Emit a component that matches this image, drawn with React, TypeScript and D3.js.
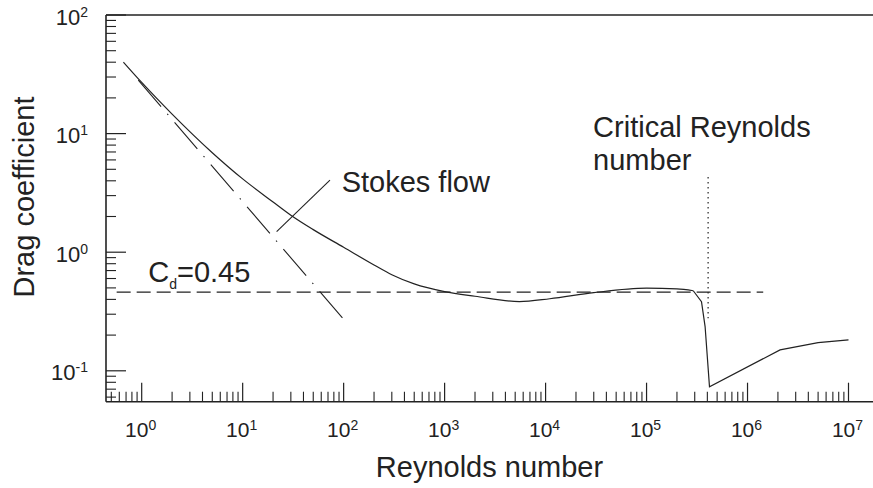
import React from "react";
import * as d3 from "d3";

// ---- data ----
const reynolds = [0.66, 1, 2, 5, 10, 20, 30, 50, 100, 200, 300, 500, 1000, 2000, 5500, 11000, 30000, 100000, 200000, 290000, 350000, 380000, 420000, 2100000, 5000000, 10000000];
const dragCoef = [40, 27, 14.6, 6.9, 4.15, 2.65, 2.05, 1.55, 1.1, 0.78, 0.645, 0.54, 0.465, 0.425, 0.383, 0.405, 0.456, 0.497, 0.49, 0.473, 0.383, 0.236, 0.0734, 0.15, 0.173, 0.182];
const SMOOTH_MAX_RE = 290000;

const stokesRe = [0.925, 98];
const stokesCd = [28.3, 0.277];

const CD_REF = 0.46;
const cdRefRe = [0.565, 1430000];

const CRIT_RE = 407000;
const critCd = [4.3, 0.277];

const xMajorTicks = [1, 10, 100, 1000, 10000, 100000, 1000000, 10000000];
const xTickExps = ["0", "1", "2", "3", "4", "5", "6", "7"];
const yMajorTicks = [100, 10, 1, 0.1];
const yTickExps = ["2", "1", "0", "-1"];

const stokesLeaderRe = [73.2, 21.7];
const stokesLeaderCd = [4.06, 1.49];

const X_TITLE = "Reynolds number";
const Y_TITLE = "Drag coefficient";
const STOKES_LABEL = "Stokes flow";
const CRIT_LABEL = ["Critical Reynolds", "number"];

// ---- layout ----
const W = 873;
const H = 488;
const LEFT = 106;
const TOP = 15;
const BOTTOM = 401.7;
const RIGHT = 873;

const FONT = "'Liberation Sans', Arial, Helvetica, sans-serif";
const INK = "#222";

export default function App() {
  const x = d3.scaleLog().domain([1, 1e7]).range([141.7, 848.5]);
  const y = d3.scaleLog().domain([100, 0.1]).range([TOP, 370.8]);

  const pts = reynolds.map((r, i) => [r, dragCoef[i]] as [number, number]);
  const smooth = pts.filter((p) => p[0] <= SMOOTH_MAX_RE);
  const sharp = pts.filter((p) => p[0] >= SMOOTH_MAX_RE);

  const lineSmooth = d3
    .line<[number, number]>()
    .x((d) => x(d[0]))
    .y((d) => y(d[1]))
    .curve(d3.curveMonotoneX);
  const lineSharp = d3
    .line<[number, number]>()
    .x((d) => x(d[0]))
    .y((d) => y(d[1]));

  const xMin = x.invert(LEFT);
  const xMinor: number[] = [];
  for (let e = -1; e <= 6; e++) {
    for (let k = 2; k <= 9; k++) {
      const v = k * Math.pow(10, e);
      if (v >= xMin && v < 1e7) xMinor.push(v);
    }
  }
  const yMin = y.invert(BOTTOM);
  const yMinor: number[] = [];
  for (let e = -2; e <= 1; e++) {
    for (let k = 2; k <= 9; k++) {
      const v = k * Math.pow(10, e);
      if (v >= yMin && v < 100) yMinor.push(v);
    }
  }

  const stokesPts = stokesRe.map((r, i) => [r, stokesCd[i]] as [number, number]);

  const sx0 = x(stokesLeaderRe[0]);
  const sy0 = y(stokesLeaderCd[0]);

  return (
    <svg
      width={W}
      height={H}
      style={{ position: "absolute", left: 0, top: 0, display: "block", background: "#fff" }}
      fontFamily={FONT}
    >
      {/* frame */}
      <line x1={LEFT} x2={RIGHT} y1={TOP} y2={TOP} stroke={INK} strokeWidth={1.6} />
      <line x1={LEFT} x2={LEFT} y1={TOP} y2={BOTTOM} stroke={INK} strokeWidth={1.6} />
      <line x1={LEFT} x2={RIGHT} y1={BOTTOM} y2={BOTTOM} stroke={INK} strokeWidth={1.6} />

      {/* x ticks */}
      {xMajorTicks.map((t) => (
        <line key={"xM" + t} x1={x(t)} x2={x(t)} y1={BOTTOM} y2={BOTTOM - 19} stroke={INK} strokeWidth={1.2} />
      ))}
      {xMinor.map((t) => (
        <line key={"xm" + t} x1={x(t)} x2={x(t)} y1={BOTTOM} y2={BOTTOM - 10} stroke={INK} strokeWidth={1.1} />
      ))}
      {xMajorTicks.map((t, i) => (
        <text key={"xl" + t} x={x(t) - 1} y={BOTTOM + 35} textAnchor="middle" fontSize={21} fill={INK}>
          10
          <tspan fontSize={14} dy={-7}>
            {xTickExps[i]}
          </tspan>
        </text>
      ))}

      {/* y ticks */}
      {yMajorTicks.map((t) => (
        <line key={"yM" + t} x1={LEFT} x2={LEFT + 20} y1={y(t)} y2={y(t)} stroke={INK} strokeWidth={1.2} />
      ))}
      {yMinor.map((t) => (
        <line key={"ym" + t} x1={LEFT} x2={LEFT + 10} y1={y(t)} y2={y(t)} stroke={INK} strokeWidth={1.1} />
      ))}
      {yMajorTicks.map((t, i) => (
        <text key={"yl" + t} x={88} y={y(t) + 9.5} textAnchor="end" fontSize={22} fill={INK}>
          10
          <tspan fontSize={14} dy={-8}>
            {yTickExps[i]}
          </tspan>
        </text>
      ))}

      {/* axis titles */}
      <text x={(LEFT + RIGHT) / 2} y={477} textAnchor="middle" fontSize={29} fill={INK}>
        {X_TITLE}
      </text>
      <text
        transform={`translate(33.5, 197) rotate(-90)`}
        textAnchor="middle"
        fontSize={29}
        fill={INK}
      >
        {Y_TITLE}
      </text>

      {/* reference Cd line */}
      <line
        x1={x(cdRefRe[0])}
        x2={x(cdRefRe[1])}
        y1={y(CD_REF)}
        y2={y(CD_REF)}
        stroke={INK}
        strokeWidth={1.2}
        strokeDasharray="14,6"
      />
      <text x={x(cdRefRe[0]) + 31.6} y={y(CD_REF) - 10} fontSize={29} fill={INK}>
        C
        <tspan fontSize={14} dy={6.6}>
          d
        </tspan>
        <tspan fontSize={29} dy={-6.6}>
          =0.45
        </tspan>
      </text>

      {/* Stokes line */}
      <path
        d={lineSharp(stokesPts) || ""}
        fill="none"
        stroke={INK}
        strokeWidth={1.1}
        strokeDasharray="35,9.5,1.5,9.7"
      />
      <line
        x1={sx0}
        y1={sy0}
        x2={x(stokesLeaderRe[1])}
        y2={y(stokesLeaderCd[1])}
        stroke={INK}
        strokeWidth={1.1}
      />
      <text x={sx0 + 11.7} y={sy0 + 11.7} fontSize={29} fill={INK}>
        {STOKES_LABEL}
      </text>

      {/* critical Reynolds */}
      <line
        x1={x(CRIT_RE)}
        x2={x(CRIT_RE)}
        y1={y(critCd[0])}
        y2={y(critCd[1])}
        stroke={INK}
        strokeWidth={1.2}
        strokeDasharray="1.5,3.5"
      />
      <text x={x(CRIT_RE) - 115} y={y(critCd[0]) - 40} fontSize={29} fill={INK}>
        {CRIT_LABEL[0]}
      </text>
      <text x={x(CRIT_RE) - 115} y={y(critCd[0]) - 6.7} fontSize={29} fill={INK}>
        {CRIT_LABEL[1]}
      </text>

      {/* drag curve */}
      <path d={lineSmooth(smooth) || ""} fill="none" stroke={INK} strokeWidth={1.2} />
      <path d={lineSharp(sharp) || ""} fill="none" stroke={INK} strokeWidth={1.2} />
    </svg>
  );
}
